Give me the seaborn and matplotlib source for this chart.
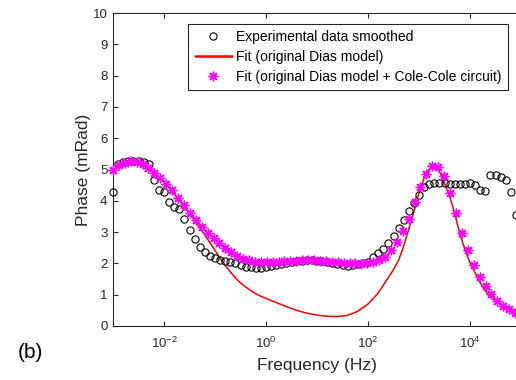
import numpy as np
import matplotlib
matplotlib.use("Agg")
import matplotlib.pyplot as plt
import seaborn as sns
from matplotlib.lines import Line2D
from matplotlib.ticker import FixedLocator, FuncFormatter, NullLocator

# ---------------- data ----------------
# Experimental data smoothed: sampled every 0.1 decade from 1e-3 Hz
exp_logf = np.round(np.arange(-3.0, 4.95, 0.1), 2)
exp_phase = [
    4.27, 5.18, 5.25, 5.28, 5.28, 5.27, 5.24, 5.18, 4.65, 4.36,
    4.28, 3.95, 3.79, 3.73, 3.42, 3.08, 2.78, 2.51, 2.38, 2.25,
    2.17, 2.12, 2.09, 2.05, 2.00, 1.94, 1.90, 1.87, 1.85, 1.85,
    1.87, 1.91, 1.95, 1.99, 2.02, 2.05, 2.07, 2.09, 2.10, 2.10,
    2.09, 2.07, 2.04, 2.00, 1.97, 1.94, 1.93, 1.94, 1.97, 2.02,
    2.06, 2.19, 2.32, 2.45, 2.66, 2.88, 3.12, 3.39, 3.67, 3.94,
    4.20, 4.43, 4.54, 4.58, 4.58, 4.56, 4.53, 4.53, 4.53, 4.54,
    4.56, 4.49, 4.33, 4.32, 4.84, 4.83, 4.77, 4.68, 4.27, 3.55,
]

# Fit (original Dias model + Cole-Cole circuit): 70 log-spaced frequencies 1e-3..1e5
cc_logf = np.linspace(-3.0, 5.0, 70)
cc_phase = [
    4.98, 5.13, 5.22, 5.26, 5.25, 5.19, 5.06, 4.90, 4.72, 4.54,
    4.35, 4.10, 3.85, 3.60, 3.38, 3.16, 2.98, 2.80, 2.64, 2.48,
    2.35, 2.23, 2.15, 2.10, 2.06, 2.04, 2.03, 2.04, 2.05, 2.07,
    2.08, 2.09, 2.10, 2.10, 2.10, 2.09, 2.08, 2.06, 2.04, 2.02,
    2.01, 2.00, 1.99, 2.00, 2.04, 2.11, 2.22, 2.43, 2.68, 3.02,
    3.43, 3.96, 4.43, 4.87, 5.11, 5.09, 4.79, 4.24, 3.62, 2.97,
    2.43, 1.95, 1.58, 1.28, 1.01, 0.81, 0.65, 0.53, 0.42, 0.34,
]

# Fit (original Dias model): continuous curve
dias_logf = [-3.0, -2.8, -2.6, -2.4, -2.2, -2.0, -1.8, -1.6, -1.4, -1.3,
             -1.2, -1.1, -1.0, -0.9, -0.8, -0.7, -0.6, -0.5, -0.4, -0.3,
             -0.2, -0.1, 0.0, 0.2, 0.4, 0.6, 0.8,
             1.0, 1.2, 1.4, 1.6, 1.8, 2.0, 2.2, 2.4, 2.5, 2.6,
             2.7, 2.8, 2.9, 3.0, 3.1, 3.2, 3.3, 3.4, 3.5, 3.6,
             3.7, 3.8, 3.9, 4.0, 4.1, 4.2, 4.3, 4.4, 4.6, 4.8, 5.0]
dias_phase = [4.98, 5.20, 5.25, 5.18, 4.94, 4.62, 4.22, 3.80, 3.38, 3.15,
              2.91, 2.66, 2.42, 2.17, 1.94, 1.73, 1.54, 1.38, 1.25, 1.13,
              1.03, 0.95, 0.88, 0.75, 0.62, 0.50, 0.41,
              0.35, 0.31, 0.30, 0.34, 0.47, 0.70, 1.05, 1.55, 1.80, 2.10,
              2.55, 3.10, 3.65, 4.25, 4.72, 5.01, 5.08, 4.95, 4.55, 4.15,
              3.60, 2.95, 2.45, 2.02, 1.70, 1.38, 1.12, 0.93, 0.70, 0.53, 0.42]

labels = ["Experimental data smoothed",
          "Fit (original Dias model)",
          "Fit (original Dias model + Cole-Cole circuit)"]
x_ticks = [1e-2, 1e0, 1e2, 1e4]
y_ticks = list(range(0, 11))

# ---------------- style ----------------
sns.set_theme(style="white")
plt.rcParams["font.family"] = ["Liberation Sans", "DejaVu Sans"]
plt.rcParams["mathtext.default"] = "regular"
gray = "#262626"

W, H = 516, 380
fig = plt.figure(figsize=(W / 100, H / 100), dpi=100)
fig.patch.set_facecolor("white")
L, R, T, B = 113, 521, 13, 326
ax = fig.add_axes([L / W, (H - B) / H, (R - L) / W, (B - T) / H])
ax.set_facecolor("white")

exp_f = 10.0 ** np.asarray(exp_logf)
cc_f = 10.0 ** np.asarray(cc_logf)
dias_f = 10.0 ** np.asarray(dias_logf)

sns.lineplot(x=dias_f, y=dias_phase, ax=ax, color="#ff0000", lw=1.1,
             estimator=None, sort=False, zorder=2)
sns.lineplot(x=exp_f, y=exp_phase, ax=ax, estimator=None, sort=False,
             linestyle="none", marker="o", markersize=5.2,
             markerfacecolor="none", markeredgecolor="black",
             markeredgewidth=0.8, color="black", zorder=3, clip_on=False)
sns.lineplot(x=cc_f, y=cc_phase, ax=ax, estimator=None, sort=False,
             linestyle="none", marker=(8, 2, 0), markersize=7,
             markeredgecolor="#ff00ff", markeredgewidth=1.0,
             color="#ff00ff", zorder=4, clip_on=False)

ax.set_xscale("log")
ax.set_xlim(1e-3, 1e5)
ax.set_ylim(0, 10)
ax.xaxis.set_major_locator(FixedLocator(x_ticks))
ax.xaxis.set_minor_locator(NullLocator())
ax.xaxis.set_major_formatter(
    FuncFormatter(lambda v, p: r"$10^{%d}$" % int(round(np.log10(v)))))
ax.set_yticks(y_ticks)

for s in ax.spines.values():
    s.set_visible(True)
    s.set_color(gray)
    s.set_linewidth(0.8)
ax.tick_params(axis="both", which="both", direction="in", length=3.5,
               width=0.8, color=gray, labelcolor=gray, labelsize=9.5,
               top=True, right=True, bottom=True, left=True)
ax.tick_params(axis="x", pad=7)
ax.tick_params(axis="y", pad=4)

ax.set_xlabel("Frequency (Hz)", fontsize=12.5, color=gray, labelpad=5)
ax.set_ylabel("Phase (mRad)", fontsize=12.5, color=gray, labelpad=1)

handles = [
    Line2D([], [], linestyle="none", marker="o", markersize=5.2,
           markerfacecolor="none", markeredgecolor="black", markeredgewidth=0.8),
    Line2D([], [], color="#ff0000", lw=1.8),
    Line2D([], [], linestyle="none", marker=(8, 2, 0), markersize=7,
           markeredgecolor="#ff00ff", markeredgewidth=1.0),
]
leg = ax.legend(handles, labels, loc="upper right",
                bbox_to_anchor=((508 - L) / (R - L), (B - 24) / (B - T)),
                borderaxespad=0, fontsize=10, frameon=True, fancybox=False,
                handlelength=2.7, handletextpad=0.3, borderpad=0.45,
                labelspacing=0.42)
leg.get_frame().set_edgecolor(gray)
leg.get_frame().set_linewidth(0.8)
leg.get_frame().set_facecolor("white")
leg.get_frame().set_alpha(1)
for t in leg.get_texts():
    t.set_color("black")

fig.text(30 / W, 1 - 352 / H, "(b)", fontsize=15, color="black",
         ha="center", va="center")

fig.savefig("out.png", dpi=100, facecolor="white")
